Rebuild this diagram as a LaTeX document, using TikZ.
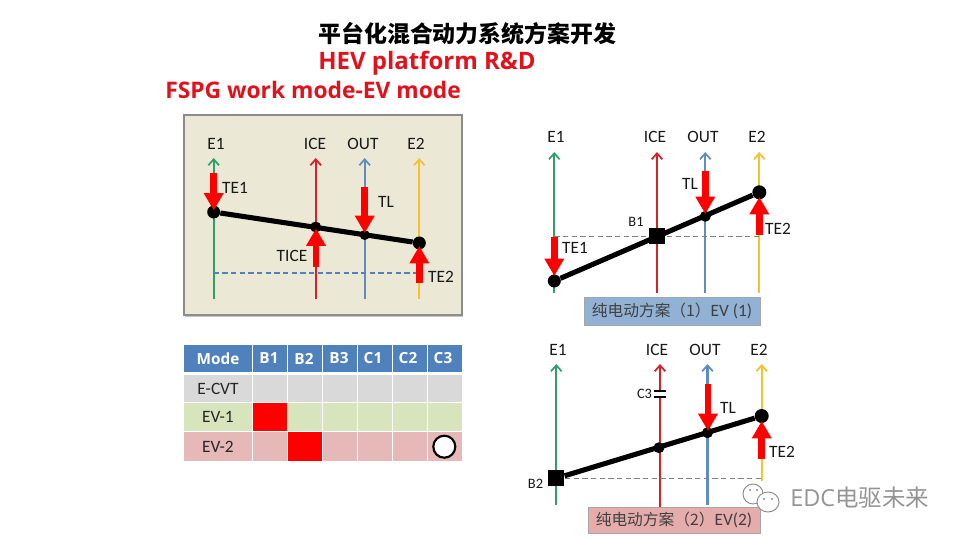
\documentclass[tikz,border=0pt]{standalone}
\usepackage{fontspec}
\setmainfont{Carlito}
\newfontfamily\cjk{Noto Sans CJK SC}
\newfontfamily\headf{Open Sans}
\usetikzlibrary{arrows.meta,shadows}
\definecolor{axgreen}{HTML}{2E9E6B}
\definecolor{axred}{HTML}{D8202A}
\definecolor{axblue}{HTML}{5F8DBE}
\definecolor{axyellow}{HTML}{F5C22F}
\definecolor{hdrblue}{HTML}{4F81BD}
\definecolor{rowgray}{HTML}{D9D9D9}
\definecolor{rowgreen}{HTML}{D8E4BC}
\definecolor{rowpink}{HTML}{E6B8B7}
\definecolor{titlered}{HTML}{E0121C}
\tikzset{
  x=0.75pt,y=-0.75pt,
  shaft/.style={line width=1.7pt,-{Straight Barb[length=4.5pt,width=8pt,line width=1.3pt]}},
  plain/.style={line width=1.7pt},
  beam/.style={line width=3.8pt,black},
  force/.style={draw=red,line width=4.9pt,-{Triangle[length=13pt,width=14pt]},red},
  dot/.style={circle,fill=black,inner sep=0pt,minimum size=#1*0.75pt},
  sq/.style={rectangle,fill=black,inner sep=0pt,minimum size=12pt},
  lab/.style={font=\fontsize{13}{15}\selectfont,text=black!90,inner sep=0pt},
  smalllab/.style={font=\fontsize{10.8}{12}\selectfont,text=black!90,inner sep=0pt},
  refline/.style={dashed,dash pattern=on 4pt off 2.5pt},
  hdr/.style={font=\headf\bfseries\fontsize{11.5}{13}\selectfont,text=white,inner sep=0pt},
  rowlab/.style={font=\fontsize{13}{15}\selectfont,text=black!85,inner sep=0pt},
  capbox/.style={draw=black!35,inner sep=0pt,font=\fontsize{11.8}{14}\selectfont,text=black!75,drop shadow={shadow xshift=1pt,shadow yshift=-1pt,opacity=.35}},
}
\begin{document}
\begin{tikzpicture}
\useasboundingbox (0,0) rectangle (960,540);
% titles
\node[anchor=west,inner sep=0pt,font=\cjk\bfseries\fontsize{17.2}{20}\selectfont] (title) at (318,34) {平台化混合动力系统方案开发};
\node[anchor=west,inner sep=0pt,text=titlered,font=\headf\bfseries\fontsize{18}{20}\selectfont] (sub1) at (318,63) {HEV platform R\&D};
\node[anchor=west,inner sep=0pt,text=titlered,font=\headf\bfseries\fontsize{17.1}{20}\selectfont] (sub2) at (165,90) {FSPG work mode-EV mode};

% ---------- panel A
\path[draw=black!45,line width=.8pt,fill={rgb,255:red,236;green,232;blue,214},drop shadow={shadow xshift=1pt,shadow yshift=-1.2pt,opacity=.45}] (184,115) rectangle (462,315);
\foreach \n/\x/\c in {e/213.7/axgreen,i/315.7/axred,o/364.7/axblue,y/419.3/axyellow}{
  \coordinate (A\n t) at (\x,158);
  \coordinate (A\n b) at (\x,299);
  \draw[shaft,\c] (A\n b) -- (A\n t);
}
\coordinate (Adl) at (213.7,273); \coordinate (Adr) at (419.3,273);
\draw[refline,hdrblue,line width=1.1pt] (Adl) -- (Adr);
\node[dot=13] (Ae) at (213.7,212) {};
\node[dot=11] (Ai) at (315.7,227) {};
\node[dot=10] (Ao) at (364.7,235) {};
\node[dot=13] (Ay) at (419.3,243) {};
\draw[beam] (Ae) -- (Ay);
\coordinate (Af1) at (213.7,172.7); \coordinate (Af1e) at (213.7,210.5);
\coordinate (Af2) at (364.7,187);   \coordinate (Af2e) at (364.7,233);
\coordinate (Af3) at (316,266.7);   \coordinate (Af3e) at (316,228.5);
\coordinate (Af4) at (419.3,282.7); \coordinate (Af4e) at (419.3,246);
\draw[force] (Af1) -- (Af1e);
\draw[force] (Af2) -- (Af2e);
\draw[force] (Af3) -- (Af3e);
\draw[force] (Af4) -- (Af4e);
\node[lab] (Al1) at (216,144) {E1};
\node[lab] (Al2) at (315,144) {ICE};
\node[lab] (Al3) at (363,144) {OUT};
\node[lab] (Al4) at (416,144) {E2};
\node[lab] (Al5) at (235,188) {TE1};
\node[lab] (Al6) at (386,202) {TL};
\node[lab] (Al7) at (292,256) {TICE};
\node[lab] (Al8) at (441,277) {TE2};

% ---------- panel B
\foreach \n/\x/\c in {e/554.3/axgreen,i/657/axred,o/705.3/axblue,y/759.3/axyellow}{
  \coordinate (B\n t) at (\x,152);
  \coordinate (B\n b) at (\x,293);
  \draw[shaft,\c] (B\n b) -- (B\n t);
}
\coordinate (Bdl) at (554.3,236.3); \coordinate (Bdr) at (759.3,236.3);
\draw[refline,black!50,line width=.6pt] (Bdl) -- (Bdr);
\node[dot=13] (Be) at (554.3,281) {};
\node[sq] (Bi) at (657,236) {};
\node[dot=11] (Bo) at (705.3,216.3) {};
\node[dot=14] (By) at (759.3,192.3) {};
\draw[beam] (Be) -- (By);
\coordinate (Bf1) at (554.3,237); \coordinate (Bf1e) at (554.3,276);
\coordinate (Bf2) at (705.3,171); \coordinate (Bf2e) at (705.3,214);
\coordinate (Bf3) at (759.3,235); \coordinate (Bf3e) at (759.3,197);
\draw[force] (Bf1) -- (Bf1e);
\draw[force] (Bf2) -- (Bf2e);
\draw[force] (Bf3) -- (Bf3e);
\node[lab] (Bl1) at (556,137) {E1};
\node[lab] (Bl2) at (655,137) {ICE};
\node[lab] (Bl3) at (703,137) {OUT};
\node[lab] (Bl4) at (757,137) {E2};
\node[lab] (Bl5) at (575,248) {TE1};
\node[lab] (Bl6) at (690,184) {TL};
\node[lab] (Bl7) at (778,229) {TE2};
\node[smalllab] (Bl8) at (636,222) {B1};
\node[capbox,fill={rgb,255:red,145;green,178;blue,212},minimum width=132pt,minimum height=21pt] (Bcap) at (672,311) {{\cjk 纯电动方案（1）}{\fontsize{13}{14}\selectfont EV (1)}};

% ---------- panel C
\foreach \n/\x/\c/\bot in {e/556.3/axgreen/505,o/707.5/axblue/505,y/761.7/axyellow/481}{
  \coordinate (C\n t) at (\x,364);
  \coordinate (C\n b) at (\x,\bot);
  \draw[shaft,\c] (C\n b) -- (C\n t);
}
\coordinate (Cit) at (660,364); \coordinate (Cib) at (660,507);
\coordinate (Cc1) at (660,391); \coordinate (Cc2) at (660,397.3);
\coordinate (Cc1l) at (654,391); \coordinate (Cc1r) at (666,391);
\coordinate (Cc2l) at (654,397.3); \coordinate (Cc2r) at (666,397.3);
\draw[shaft,axred] (Cc1) -- (Cit);
\draw[plain,axred] (Cc2) -- (Cib);
\draw[black,line width=1.3pt] (Cc1l) -- (Cc1r);
\draw[black,line width=1.3pt] (Cc2l) -- (Cc2r);
\coordinate (Cdl) at (556.3,478.3); \coordinate (Cdr) at (761.7,478.3);
\draw[refline,black!50,line width=.6pt] (Cdl) -- (Cdr);
\node[sq] (Ce) at (556.3,478.3) {};
\node[dot=11] (Ci) at (659,447.7) {};
\node[dot=11] (Co) at (707.5,432.7) {};
\node[dot=14] (Cy) at (761.7,416) {};
\draw[beam] (Ce) -- (Cy);
\coordinate (Cf2) at (708,384); \coordinate (Cf2e) at (708,431);
\coordinate (Cf3) at (761.7,459); \coordinate (Cf3e) at (761.7,421);
\draw[force] (Cf2) -- (Cf2e);
\draw[force] (Cf3) -- (Cf3e);
\node[lab] (Cl1) at (558,350) {E1};
\node[lab] (Cl2) at (657,350) {ICE};
\node[lab] (Cl3) at (705,350) {OUT};
\node[lab] (Cl4) at (759,350) {E2};
\node[lab] (Cl5) at (728,408) {TL};
\node[lab] (Cl6) at (782,452) {TE2};
\node[smalllab] (Cl7) at (535.5,484) {B2};
\node[smalllab] (Cl8) at (644.5,394) {C3};
\node[capbox,fill={rgb,255:red,230;green,172;blue,172},minimum width=129pt,minimum height=19.5pt] (Ccap) at (674,520) {{\cjk 纯电动方案（2）}{\fontsize{13}{14}\selectfont EV(2)}};

% ---------- table
\foreach \ya/\yb/\c in {345/371.7/hdrblue,375/401.7/rowgray,403/431/rowgreen,432/461/rowpink}{
  \foreach \xa/\xb in {184.3/252,253/287,288/322,323/357,358/392,393/427,428/461.7}{
    \fill[\c] (\xa,\ya) rectangle (\xb,\yb);
  }
}
\fill[red] (253,403) rectangle (287,431);
\fill[red] (288,432) rectangle (322,461);
\node[hdr] (h0) at (218,358.5) {Mode};
\node[hdr] (h1) at (269,358.5) {B1};
\node[hdr] (h2) at (304,358.5) {B2};
\node[hdr] (h3) at (339,358.5) {B3};
\node[hdr] (h4) at (373,358.5) {C1};
\node[hdr] (h5) at (408,358.5) {C2};
\node[hdr] (h6) at (443,358.5) {C3};
\node[rowlab] (r1) at (218,388.5) {E-CVT};
\node[rowlab] (r2) at (218,417) {EV-1};
\node[rowlab] (r3) at (218,446.5) {EV-2};
\node[circle,draw=black,line width=1.6pt,fill=white,inner sep=0pt,minimum size=16.5pt] (mark) at (444.3,446.7) {};

% ---------- watermark
\begin{scope}[draw=black!45,line width=.7pt,fill=white]
\path[draw,fill] (753,494) ellipse [x radius=10,y radius=10];
\path[draw,fill] (768,502) ellipse [x radius=11,y radius=10];
\fill[black!45] (764,499) circle [radius=1.2] (772,499) circle [radius=1.2] (750,490) circle [radius=1.2] (757,490) circle [radius=1.2];
\end{scope}
\node[anchor=west,inner sep=0pt,text=black!42,font=\headf\fontsize{17.6}{20}\selectfont] (wm) at (790,498) {EDC{\cjk 电驱未来}};
\end{tikzpicture}
\end{document}
